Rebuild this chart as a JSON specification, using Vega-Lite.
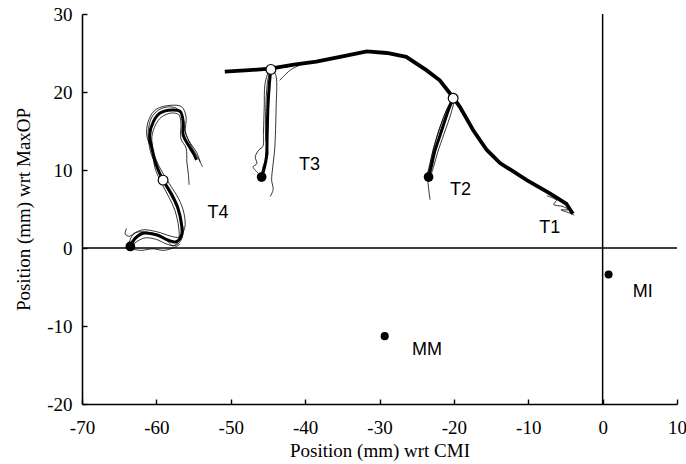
{
  "$schema": "https://vega.github.io/schema/vega-lite/v6.json",
  "width": 595,
  "height": 390,
  "autosize": {"type": "none"},
  "padding": {"left": 82, "top": 14, "right": 9, "bottom": 60},
  "background": "white",
  "config": {
    "view": {"stroke": null},
    "axis": {
      "grid": false,
      "domainColor": "black",
      "domainWidth": 1.6,
      "tickColor": "black",
      "tickWidth": 1.4,
      "labelFont": "Liberation Serif",
      "labelFontSize": 19,
      "labelColor": "black",
      "titleFont": "Liberation Serif",
      "titleFontSize": 19,
      "titleFontWeight": "normal",
      "titleColor": "black"
    }
  },
  "datasets": {
    "paths": [
      {"g": "T1", "k": "main", "o": 1, "x": -50.8, "y": 22.6},
      {"g": "T1", "k": "main", "o": 2, "x": -47.5, "y": 22.8},
      {"g": "T1", "k": "main", "o": 3, "x": -44.7, "y": 23.0},
      {"g": "T1", "k": "main", "o": 4, "x": -41.5, "y": 23.5},
      {"g": "T1", "k": "main", "o": 5, "x": -38.5, "y": 23.9},
      {"g": "T1", "k": "main", "o": 6, "x": -35.3, "y": 24.5},
      {"g": "T1", "k": "main", "o": 7, "x": -31.7, "y": 25.2},
      {"g": "T1", "k": "main", "o": 8, "x": -29.0, "y": 25.0},
      {"g": "T1", "k": "main", "o": 9, "x": -26.4, "y": 24.5},
      {"g": "T1", "k": "main", "o": 10, "x": -23.7, "y": 22.8},
      {"g": "T1", "k": "main", "o": 11, "x": -21.9, "y": 21.5},
      {"g": "T1", "k": "main", "o": 12, "x": -20.1, "y": 19.3},
      {"g": "T1", "k": "main", "o": 13, "x": -19.2, "y": 18.1},
      {"g": "T1", "k": "main", "o": 14, "x": -17.4, "y": 15.1},
      {"g": "T1", "k": "main", "o": 15, "x": -15.6, "y": 12.6},
      {"g": "T1", "k": "main", "o": 16, "x": -13.8, "y": 10.9},
      {"g": "T1", "k": "main", "o": 17, "x": -10.2, "y": 8.7},
      {"g": "T1", "k": "main", "o": 18, "x": -7.1, "y": 7.0},
      {"g": "T1", "k": "main", "o": 19, "x": -4.9, "y": 5.7},
      {"g": "T1", "k": "main", "o": 20, "x": -4.0, "y": 4.4},

      {"g": "T1a", "k": "trial", "o": 1, "x": -7.5, "y": 6.7},
      {"g": "T1a", "k": "trial", "o": 2, "x": -6.2, "y": 6.1},
      {"g": "T1a", "k": "trial", "o": 3, "x": -6.6, "y": 5.6},
      {"g": "T1a", "k": "trial", "o": 4, "x": -5.3, "y": 5.3},
      {"g": "T1a", "k": "trial", "o": 5, "x": -4.6, "y": 4.9},
      {"g": "T1a", "k": "trial", "o": 6, "x": -5.6, "y": 4.9},
      {"g": "T1a", "k": "trial", "o": 7, "x": -4.2, "y": 4.4},
      {"g": "T1a", "k": "trial", "o": 8, "x": -3.8, "y": 4.2},

      {"g": "T2m", "k": "mean", "o": 1, "x": -20.1, "y": 19.2},
      {"g": "T2m", "k": "mean", "o": 2, "x": -20.8, "y": 17.5},
      {"g": "T2m", "k": "mean", "o": 3, "x": -21.7, "y": 14.9},
      {"g": "T2m", "k": "mean", "o": 4, "x": -22.6, "y": 12.3},
      {"g": "T2m", "k": "mean", "o": 5, "x": -23.0, "y": 10.6},
      {"g": "T2m", "k": "mean", "o": 6, "x": -23.4, "y": 9.1},
      {"g": "T2a", "k": "trial", "o": 1, "x": -20.3, "y": 19.0},
      {"g": "T2a", "k": "trial", "o": 2, "x": -21.2, "y": 17.2},
      {"g": "T2a", "k": "trial", "o": 3, "x": -22.2, "y": 14.6},
      {"g": "T2a", "k": "trial", "o": 4, "x": -22.9, "y": 12.0},
      {"g": "T2a", "k": "trial", "o": 5, "x": -23.3, "y": 10.2},
      {"g": "T2a", "k": "trial", "o": 6, "x": -23.5, "y": 9.0},
      {"g": "T2a", "k": "trial", "o": 7, "x": -23.2, "y": 6.2},
      {"g": "T2b", "k": "trial", "o": 1, "x": -19.9, "y": 19.0},
      {"g": "T2b", "k": "trial", "o": 2, "x": -20.4, "y": 17.2},
      {"g": "T2b", "k": "trial", "o": 3, "x": -21.3, "y": 14.7},
      {"g": "T2b", "k": "trial", "o": 4, "x": -22.2, "y": 12.2},
      {"g": "T2b", "k": "trial", "o": 5, "x": -22.7, "y": 10.5},
      {"g": "T2b", "k": "trial", "o": 6, "x": -23.1, "y": 9.3},
      {"g": "T2c", "k": "trial", "o": 1, "x": -20.0, "y": 19.4},
      {"g": "T2c", "k": "trial", "o": 2, "x": -20.9, "y": 17.9},
      {"g": "T2c", "k": "trial", "o": 3, "x": -21.9, "y": 15.3},
      {"g": "T2c", "k": "trial", "o": 4, "x": -22.8, "y": 12.6},
      {"g": "T2c", "k": "trial", "o": 5, "x": -23.2, "y": 10.9},
      {"g": "T2c", "k": "trial", "o": 6, "x": -23.6, "y": 9.4},

      {"g": "T3m", "k": "mean", "o": 1, "x": -44.6, "y": 22.9},
      {"g": "T3m", "k": "mean", "o": 2, "x": -44.8, "y": 21.1},
      {"g": "T3m", "k": "mean", "o": 3, "x": -45.0, "y": 18.1},
      {"g": "T3m", "k": "mean", "o": 4, "x": -45.1, "y": 14.7},
      {"g": "T3m", "k": "mean", "o": 5, "x": -45.2, "y": 11.7},
      {"g": "T3m", "k": "mean", "o": 6, "x": -45.5, "y": 10.2},
      {"g": "T3m", "k": "mean", "o": 7, "x": -45.85, "y": 9.1},
      {"g": "T3a", "k": "trial", "o": 1, "x": -44.3, "y": 22.8},
      {"g": "T3a", "k": "trial", "o": 2, "x": -43.9, "y": 22.0},
      {"g": "T3a", "k": "trial", "o": 3, "x": -43.9, "y": 18.0},
      {"g": "T3a", "k": "trial", "o": 4, "x": -44.0, "y": 14.5},
      {"g": "T3a", "k": "trial", "o": 5, "x": -44.1, "y": 12.6},
      {"g": "T3a", "k": "trial", "o": 6, "x": -44.3, "y": 10.8},
      {"g": "T3a", "k": "trial", "o": 7, "x": -44.5, "y": 8.7},
      {"g": "T3a", "k": "trial", "o": 8, "x": -44.3, "y": 7.5},
      {"g": "T3a", "k": "trial", "o": 9, "x": -44.7, "y": 6.6},
      {"g": "T3b", "k": "trial", "o": 1, "x": -44.9, "y": 22.8},
      {"g": "T3b", "k": "trial", "o": 2, "x": -45.4, "y": 21.0},
      {"g": "T3b", "k": "trial", "o": 3, "x": -45.5, "y": 18.0},
      {"g": "T3b", "k": "trial", "o": 4, "x": -45.6, "y": 15.0},
      {"g": "T3b", "k": "trial", "o": 5, "x": -45.7, "y": 13.0},
      {"g": "T3b", "k": "trial", "o": 6, "x": -46.2, "y": 12.6},
      {"g": "T3b", "k": "trial", "o": 7, "x": -46.7, "y": 11.7},
      {"g": "T3b", "k": "trial", "o": 8, "x": -46.5, "y": 10.8},
      {"g": "T3b", "k": "trial", "o": 9, "x": -47.0, "y": 10.4},
      {"g": "T3b", "k": "trial", "o": 10, "x": -46.3, "y": 9.6},
      {"g": "T3c", "k": "trial", "o": 1, "x": -44.7, "y": 23.0},
      {"g": "T3c", "k": "trial", "o": 2, "x": -45.1, "y": 21.0},
      {"g": "T3c", "k": "trial", "o": 3, "x": -45.3, "y": 17.5},
      {"g": "T3c", "k": "trial", "o": 4, "x": -45.3, "y": 14.0},
      {"g": "T3c", "k": "trial", "o": 5, "x": -45.0, "y": 12.0},
      {"g": "T3c", "k": "trial", "o": 6, "x": -45.6, "y": 10.6},
      {"g": "T3c", "k": "trial", "o": 7, "x": -45.9, "y": 9.3},
      {"g": "T3d", "k": "trial", "o": 1, "x": -44.2, "y": 23.1},
      {"g": "T3d", "k": "trial", "o": 2, "x": -42.5, "y": 23.2},
      {"g": "T3d", "k": "trial", "o": 3, "x": -40.5, "y": 23.6},
      {"g": "T3d", "k": "trial", "o": 4, "x": -42.0, "y": 22.8},
      {"g": "T3d", "k": "trial", "o": 5, "x": -43.4, "y": 21.5},

      {"g": "T4m", "k": "mean", "o": 1, "x": -63.5, "y": 0.2},
      {"g": "T4m", "k": "mean", "o": 2, "x": -62.9, "y": 1.2},
      {"g": "T4m", "k": "mean", "o": 3, "x": -61.8, "y": 1.9},
      {"g": "T4m", "k": "mean", "o": 4, "x": -60.0, "y": 1.7},
      {"g": "T4m", "k": "mean", "o": 5, "x": -58.4, "y": 1.0},
      {"g": "T4m", "k": "mean", "o": 6, "x": -57.3, "y": 0.8},
      {"g": "T4m", "k": "mean", "o": 7, "x": -56.6, "y": 1.7},
      {"g": "T4m", "k": "mean", "o": 8, "x": -56.6, "y": 2.9},
      {"g": "T4m", "k": "mean", "o": 9, "x": -57.1, "y": 5.1},
      {"g": "T4m", "k": "mean", "o": 10, "x": -57.9, "y": 6.8},
      {"g": "T4m", "k": "mean", "o": 11, "x": -59.1, "y": 8.7},
      {"g": "T4m", "k": "mean", "o": 12, "x": -60.0, "y": 10.6},
      {"g": "T4m", "k": "mean", "o": 13, "x": -60.6, "y": 12.8},
      {"g": "T4m", "k": "mean", "o": 14, "x": -60.9, "y": 14.5},
      {"g": "T4m", "k": "mean", "o": 15, "x": -60.4, "y": 16.2},
      {"g": "T4m", "k": "mean", "o": 16, "x": -59.5, "y": 17.3},
      {"g": "T4m", "k": "mean", "o": 17, "x": -57.9, "y": 17.7},
      {"g": "T4m", "k": "mean", "o": 18, "x": -56.8, "y": 17.5},
      {"g": "T4m", "k": "mean", "o": 19, "x": -56.4, "y": 16.2},
      {"g": "T4m", "k": "mean", "o": 20, "x": -56.4, "y": 14.5},
      {"g": "T4m", "k": "mean", "o": 21, "x": -55.7, "y": 13.2},
      {"g": "T4m", "k": "mean", "o": 22, "x": -55.0, "y": 12.1},
      {"g": "T4m", "k": "mean", "o": 23, "x": -54.6, "y": 11.3},
      {"g": "T4a", "k": "trial", "o": 1, "x": -63.8, "y": 0.0},
      {"g": "T4a", "k": "trial", "o": 2, "x": -63.3, "y": 1.5},
      {"g": "T4a", "k": "trial", "o": 3, "x": -62.0, "y": 2.3},
      {"g": "T4a", "k": "trial", "o": 4, "x": -60.0, "y": 2.1},
      {"g": "T4a", "k": "trial", "o": 5, "x": -58.0, "y": 1.5},
      {"g": "T4a", "k": "trial", "o": 6, "x": -57.0, "y": 1.4},
      {"g": "T4a", "k": "trial", "o": 7, "x": -56.2, "y": 2.5},
      {"g": "T4a", "k": "trial", "o": 8, "x": -56.3, "y": 4.5},
      {"g": "T4a", "k": "trial", "o": 9, "x": -57.0, "y": 6.3},
      {"g": "T4a", "k": "trial", "o": 10, "x": -58.3, "y": 8.3},
      {"g": "T4a", "k": "trial", "o": 11, "x": -59.6, "y": 10.4},
      {"g": "T4a", "k": "trial", "o": 12, "x": -60.6, "y": 12.6},
      {"g": "T4a", "k": "trial", "o": 13, "x": -61.3, "y": 14.5},
      {"g": "T4a", "k": "trial", "o": 14, "x": -61.0, "y": 16.5},
      {"g": "T4a", "k": "trial", "o": 15, "x": -60.0, "y": 17.8},
      {"g": "T4a", "k": "trial", "o": 16, "x": -58.0, "y": 18.3},
      {"g": "T4a", "k": "trial", "o": 17, "x": -56.6, "y": 18.1},
      {"g": "T4a", "k": "trial", "o": 18, "x": -56.0, "y": 16.8},
      {"g": "T4a", "k": "trial", "o": 19, "x": -56.1, "y": 14.8},
      {"g": "T4a", "k": "trial", "o": 20, "x": -55.4, "y": 13.4},
      {"g": "T4a", "k": "trial", "o": 21, "x": -54.6, "y": 12.3},
      {"g": "T4a", "k": "trial", "o": 22, "x": -54.1, "y": 11.0},
      {"g": "T4b", "k": "trial", "o": 1, "x": -63.2, "y": 0.4},
      {"g": "T4b", "k": "trial", "o": 2, "x": -62.5, "y": 0.9},
      {"g": "T4b", "k": "trial", "o": 3, "x": -61.5, "y": 1.3},
      {"g": "T4b", "k": "trial", "o": 4, "x": -60.0, "y": 1.1},
      {"g": "T4b", "k": "trial", "o": 5, "x": -58.6, "y": 0.5},
      {"g": "T4b", "k": "trial", "o": 6, "x": -57.6, "y": 0.3},
      {"g": "T4b", "k": "trial", "o": 7, "x": -57.0, "y": 1.0},
      {"g": "T4b", "k": "trial", "o": 8, "x": -57.0, "y": 2.6},
      {"g": "T4b", "k": "trial", "o": 9, "x": -57.5, "y": 4.8},
      {"g": "T4b", "k": "trial", "o": 10, "x": -58.3, "y": 6.5},
      {"g": "T4b", "k": "trial", "o": 11, "x": -59.4, "y": 8.5},
      {"g": "T4b", "k": "trial", "o": 12, "x": -60.2, "y": 10.3},
      {"g": "T4b", "k": "trial", "o": 13, "x": -60.5, "y": 12.8},
      {"g": "T4b", "k": "trial", "o": 14, "x": -60.6, "y": 14.3},
      {"g": "T4b", "k": "trial", "o": 15, "x": -60.1, "y": 15.8},
      {"g": "T4b", "k": "trial", "o": 16, "x": -59.3, "y": 16.8},
      {"g": "T4b", "k": "trial", "o": 17, "x": -58.0, "y": 17.3},
      {"g": "T4b", "k": "trial", "o": 18, "x": -57.0, "y": 17.1},
      {"g": "T4b", "k": "trial", "o": 19, "x": -56.7, "y": 16.0},
      {"g": "T4b", "k": "trial", "o": 20, "x": -56.7, "y": 14.0},
      {"g": "T4b", "k": "trial", "o": 21, "x": -56.0, "y": 12.8},
      {"g": "T4b", "k": "trial", "o": 22, "x": -55.9, "y": 11.0},
      {"g": "T4b", "k": "trial", "o": 23, "x": -55.7, "y": 9.5},
      {"g": "T4b", "k": "trial", "o": 24, "x": -55.6, "y": 8.1},
      {"g": "T4c", "k": "trial", "o": 1, "x": -64.0, "y": 2.5},
      {"g": "T4c", "k": "trial", "o": 2, "x": -64.2, "y": 1.8},
      {"g": "T4c", "k": "trial", "o": 3, "x": -63.6, "y": 1.5},
      {"g": "T4c", "k": "trial", "o": 4, "x": -62.8, "y": 2.0},
      {"g": "T4c", "k": "trial", "o": 5, "x": -61.0, "y": 2.0},
      {"g": "T4c", "k": "trial", "o": 6, "x": -59.0, "y": 1.4},
      {"g": "T4c", "k": "trial", "o": 7, "x": -57.8, "y": 0.3},
      {"g": "T4c", "k": "trial", "o": 8, "x": -56.9, "y": 0.7},
      {"g": "T4c", "k": "trial", "o": 9, "x": -56.4, "y": 2.0},
      {"g": "T4c", "k": "trial", "o": 10, "x": -56.8, "y": 4.0},
      {"g": "T4c", "k": "trial", "o": 11, "x": -57.6, "y": 5.9},
      {"g": "T4c", "k": "trial", "o": 12, "x": -58.8, "y": 8.0},
      {"g": "T4c", "k": "trial", "o": 13, "x": -59.9, "y": 10.2},
      {"g": "T4c", "k": "trial", "o": 14, "x": -60.8, "y": 12.4},
      {"g": "T4c", "k": "trial", "o": 15, "x": -61.1, "y": 14.8},
      {"g": "T4c", "k": "trial", "o": 16, "x": -60.6, "y": 16.8},
      {"g": "T4c", "k": "trial", "o": 17, "x": -59.3, "y": 17.9},
      {"g": "T4c", "k": "trial", "o": 18, "x": -57.5, "y": 18.0},
      {"g": "T4c", "k": "trial", "o": 19, "x": -56.5, "y": 17.0},
      {"g": "T4c", "k": "trial", "o": 20, "x": -56.2, "y": 15.2},
      {"g": "T4c", "k": "trial", "o": 21, "x": -55.6, "y": 13.6},
      {"g": "T4c", "k": "trial", "o": 22, "x": -54.9, "y": 12.4},
      {"g": "T4c", "k": "trial", "o": 23, "x": -54.2, "y": 11.2},
      {"g": "T4c", "k": "trial", "o": 24, "x": -53.8, "y": 10.4},
      {"g": "T4d", "k": "trial", "o": 1, "x": -63.5, "y": -0.1},
      {"g": "T4d", "k": "trial", "o": 2, "x": -62.0, "y": -0.3},
      {"g": "T4d", "k": "trial", "o": 3, "x": -60.5, "y": -0.1},
      {"g": "T4d", "k": "trial", "o": 4, "x": -59.0, "y": -0.3},
      {"g": "T4d", "k": "trial", "o": 5, "x": -57.5, "y": 0.1},
      {"g": "T4d", "k": "trial", "o": 6, "x": -56.8, "y": 0.5}
    ],
    "points": [
      {"id": "T4", "t": "start", "x": -63.5, "y": 0.2},
      {"id": "T3", "t": "start", "x": -45.85, "y": 9.1},
      {"id": "T2", "t": "start", "x": -23.4, "y": 9.1},
      {"id": "T4", "t": "via", "x": -59.1, "y": 8.7},
      {"id": "T3", "t": "via", "x": -44.6, "y": 22.9},
      {"id": "T2", "t": "via", "x": -20.1, "y": 19.2},
      {"id": "MM", "t": "marker", "x": -29.3, "y": -11.3},
      {"id": "MI", "t": "marker", "x": 0.8, "y": -3.4}
    ],
    "labels": [
      {"label": "T1", "x": -7.1, "y": 2.6},
      {"label": "T2", "x": -19.1, "y": 7.4},
      {"label": "T3", "x": -39.4, "y": 10.7},
      {"label": "T4", "x": -51.7, "y": 4.5},
      {"label": "MM", "x": -23.6, "y": -13.1},
      {"label": "MI", "x": 5.4, "y": -5.7}
    ],
    "refs": [
      {"ref": "origin", "x": 0, "y": 0}
    ]
  },
  "layer": [
    {
      "data": {"name": "paths"},
      "transform": [{"filter": "datum.k === 'trial'"}],
      "mark": {"type": "line", "color": "black", "strokeWidth": 0.8, "interpolate": "catmull-rom"},
      "encoding": {
        "x": {
          "field": "x", "type": "quantitative",
          "scale": {"domain": [-70, 10], "nice": false, "zero": false},
          "axis": {
            "title": "Position (mm) wrt CMI",
            "values": [-70, -65, -60, -55, -50, -45, -40, -35, -30, -25, -20, -15, -10, -5, 0, 5, 10],
            "labelExpr": "datum.value % 10 === 0 ? '' + datum.value : ''",
            "tickSize": -5,
            "labelPadding": 19,
            "labelFlush": false,
            "labelOverlap": false,
            "titleY": 52,
            "titleBaseline": "alphabetic"
          }
        },
        "y": {
          "field": "y", "type": "quantitative",
          "scale": {"domain": [-20, 30], "nice": false, "zero": false},
          "axis": {
            "title": "Position (mm) wrt MaxOP",
            "values": [-20, -15, -10, -5, 0, 5, 10, 15, 20, 25, 30],
            "labelExpr": "datum.value % 10 === 0 ? '' + datum.value : ''",
            "tickSize": -5,
            "labelPadding": 15,
            "labelFlush": false,
            "labelOverlap": false,
            "titleX": -53,
            "titleBaseline": "alphabetic"
          }
        },
        "detail": {"field": "g"},
        "order": {"field": "o"}
      }
    },
    {
      "data": {"name": "refs"},
      "mark": {"type": "rule", "color": "black", "strokeWidth": 1.5},
      "encoding": {"y": {"field": "y", "type": "quantitative"}}
    },
    {
      "data": {"name": "refs"},
      "mark": {"type": "rule", "color": "black", "strokeWidth": 1.5},
      "encoding": {"x": {"field": "x", "type": "quantitative"}}
    },
    {
      "data": {"name": "paths"},
      "transform": [{"filter": "datum.k === 'mean'"}],
      "mark": {"type": "line", "color": "black", "strokeWidth": 3, "interpolate": "catmull-rom"},
      "encoding": {
        "x": {"field": "x", "type": "quantitative"},
        "y": {"field": "y", "type": "quantitative"},
        "detail": {"field": "g"},
        "order": {"field": "o"}
      }
    },
    {
      "data": {"name": "paths"},
      "transform": [{"filter": "datum.k === 'main'"}],
      "mark": {"type": "line", "color": "black", "strokeWidth": 3.8},
      "encoding": {
        "x": {"field": "x", "type": "quantitative"},
        "y": {"field": "y", "type": "quantitative"},
        "detail": {"field": "g"},
        "order": {"field": "o"}
      }
    },
    {
      "data": {"name": "points"},
      "transform": [{"filter": "datum.t === 'start'"}],
      "mark": {"type": "point", "shape": "circle", "filled": true, "color": "black", "size": 95, "opacity": 1},
      "encoding": {
        "x": {"field": "x", "type": "quantitative"},
        "y": {"field": "y", "type": "quantitative"}
      }
    },
    {
      "data": {"name": "points"},
      "transform": [{"filter": "datum.t === 'via'"}],
      "mark": {"type": "point", "shape": "circle", "filled": false, "fill": "white", "fillOpacity": 1, "stroke": "black", "strokeWidth": 1.2, "size": 95, "opacity": 1},
      "encoding": {
        "x": {"field": "x", "type": "quantitative"},
        "y": {"field": "y", "type": "quantitative"}
      }
    },
    {
      "data": {"name": "points"},
      "transform": [{"filter": "datum.t === 'marker'"}],
      "mark": {"type": "point", "shape": "circle", "filled": true, "color": "black", "size": 65, "opacity": 1},
      "encoding": {
        "x": {"field": "x", "type": "quantitative"},
        "y": {"field": "y", "type": "quantitative"}
      }
    },
    {
      "data": {"name": "labels"},
      "mark": {"type": "text", "font": "Liberation Sans", "fontSize": 18, "color": "black", "align": "center", "baseline": "middle"},
      "encoding": {
        "x": {"field": "x", "type": "quantitative"},
        "y": {"field": "y", "type": "quantitative"},
        "text": {"field": "label"}
      }
    }
  ]
}
